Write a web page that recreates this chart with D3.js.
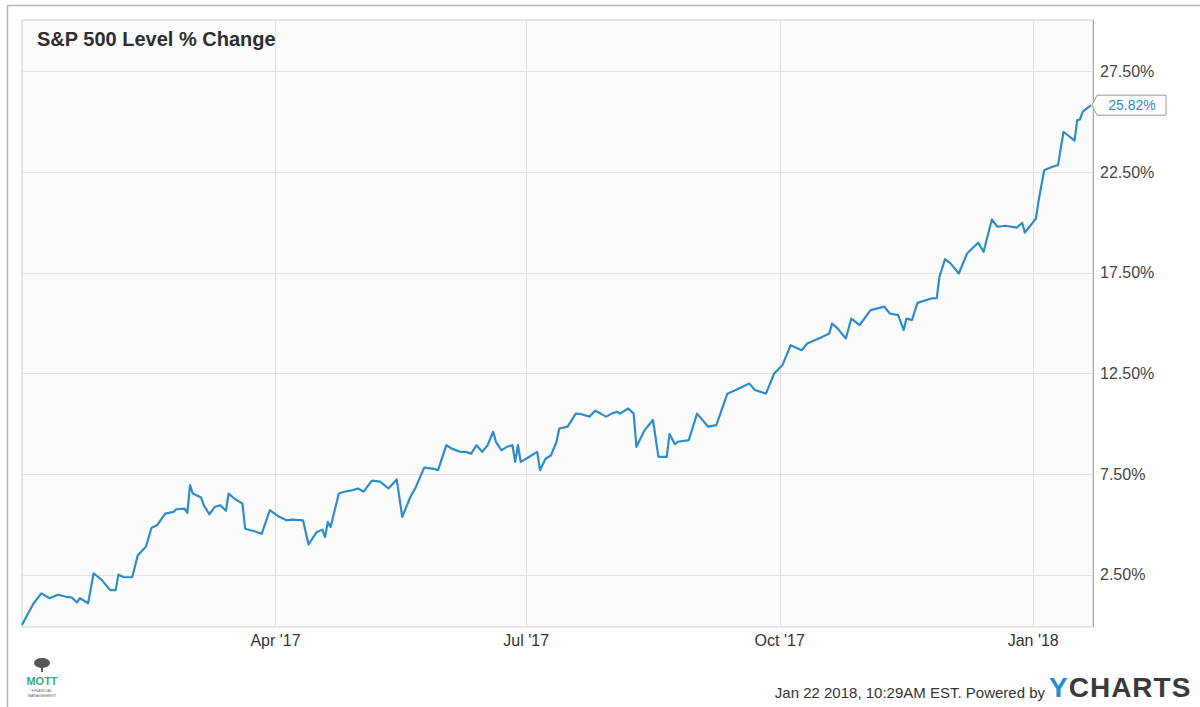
<!DOCTYPE html>
<html>
<head>
<meta charset="utf-8">
<script src="https://cdn.jsdelivr.net/npm/d3@7"></script>
<style>
  body { margin: 0; background: #fff; }
  svg { display: block; font-family: "Liberation Sans", Arial, sans-serif; }
</style>
</head>
<body>
<div id="container"></div>
<script>
/* DATA */
const dates = [
  "2016-12-30","2017-01-03","2017-01-06","2017-01-09","2017-01-12","2017-01-15","2017-01-17","2017-01-19","2017-01-20","2017-01-23",
  "2017-01-25","2017-01-28","2017-01-31","2017-02-02","2017-02-03","2017-02-05","2017-02-08","2017-02-10","2017-02-13","2017-02-15",
  "2017-02-17","2017-02-20","2017-02-23","2017-02-24","2017-02-27","2017-02-28","2017-03-01","2017-03-02","2017-03-05","2017-03-06",
  "2017-03-08","2017-03-10","2017-03-12","2017-03-14","2017-03-15","2017-03-17","2017-03-20","2017-03-21","2017-03-24","2017-03-27",
  "2017-03-29","2017-03-30","2017-04-02","2017-04-05","2017-04-07","2017-04-11","2017-04-13","2017-04-16","2017-04-18","2017-04-19",
  "2017-04-20","2017-04-21","2017-04-24","2017-04-26","2017-04-29","2017-05-01","2017-05-03","2017-05-06","2017-05-09","2017-05-12",
  "2017-05-15","2017-05-17","2017-05-20","2017-05-22","2017-05-25","2017-05-28","2017-05-30","2017-06-02","2017-06-04","2017-06-07",
  "2017-06-09","2017-06-11","2017-06-13","2017-06-15","2017-06-17","2017-06-19","2017-06-20","2017-06-22","2017-06-24","2017-06-26",
  "2017-06-27","2017-06-28","2017-06-29","2017-07-01","2017-07-03","2017-07-05","2017-07-06","2017-07-08","2017-07-10","2017-07-12",
  "2017-07-13","2017-07-16","2017-07-19","2017-07-21","2017-07-24","2017-07-26","2017-07-28","2017-07-30","2017-08-01","2017-08-03",
  "2017-08-04","2017-08-07","2017-08-09","2017-08-10","2017-08-13","2017-08-16","2017-08-18","2017-08-21","2017-08-22","2017-08-24",
  "2017-08-25","2017-08-29","2017-09-01","2017-09-05","2017-09-08","2017-09-12","2017-09-15","2017-09-20","2017-09-22","2017-09-26",
  "2017-09-29","2017-10-02","2017-10-05","2017-10-09","2017-10-11","2017-10-16","2017-10-19","2017-10-20","2017-10-22","2017-10-25",
  "2017-10-27","2017-10-30","2017-11-03","2017-11-08","2017-11-10","2017-11-13","2017-11-15","2017-11-16","2017-11-18","2017-11-20",
  "2017-11-25","2017-11-27","2017-11-28","2017-11-30","2017-12-02","2017-12-05","2017-12-08","2017-12-12","2017-12-14","2017-12-17",
  "2017-12-19","2017-12-22","2017-12-26","2017-12-28","2017-12-29","2018-01-02","2018-01-03","2018-01-05","2018-01-08","2018-01-10",
  "2018-01-12","2018-01-16","2018-01-17","2018-01-18","2018-01-19","2018-01-22"
];
const pctChange = [
  0, 1.03, 1.57, 1.33, 1.5, 1.4, 1.37, 1.12, 1.33, 1.08,
  2.57, 2.23, 1.73, 1.73, 2.5, 2.37, 2.37, 3.45, 3.9, 4.83,
  4.95, 5.53, 5.62, 5.75, 5.78, 5.57, 6.95, 6.53, 6.33, 5.95,
  5.5, 5.87, 5.95, 5.67, 6.53, 6.28, 6.03, 4.78, 4.67, 4.53,
  5.33, 5.7, 5.4, 5.2, 5.23, 5.2, 4.0, 4.62, 4.73, 4.37,
  5.12, 4.87, 6.53, 6.62, 6.7, 6.78, 6.62, 7.17, 7.12, 6.78,
  7.23, 5.37, 6.37, 6.87, 7.82, 7.77, 7.69, 8.93, 8.76, 8.6,
  8.6, 8.51, 8.93, 8.6, 8.93, 9.6, 9.1, 8.68, 8.85, 8.93,
  8.1, 8.93, 8.1, 8.26, 8.43, 8.6, 7.69, 8.26, 8.43, 9.1,
  9.76, 9.85, 10.5, 10.47, 10.35, 10.64, 10.5, 10.35, 10.5, 10.59,
  10.5, 10.75, 10.5, 8.85, 9.68, 10.18, 8.35, 8.35, 9.48, 8.98,
  9.1, 9.18, 10.5, 9.85, 9.93, 11.49, 11.67, 11.99, 11.67, 11.49,
  12.49, 12.91, 13.9, 13.65, 13.98, 14.28, 14.48, 14.97, 14.73, 14.23,
  15.22, 14.9, 15.64, 15.81, 15.47, 15.39, 14.65, 15.22, 15.14, 16.0,
  16.22, 16.24, 17.3, 18.17, 17.96, 17.46, 18.45, 18.99, 18.54, 20.14,
  19.78, 19.83, 19.74, 19.98, 19.49, 20.19, 21.1, 22.59, 22.76, 22.84,
  24.5, 24.06, 25.08, 25.11, 25.5, 25.82
];
const yTicks = [2.5, 7.5, 12.5, 17.5, 22.5, 27.5];
const xTickDates = ["2017-04-01", "2017-07-01", "2017-10-01", "2018-01-01"];
const xTickLabels = ["Apr '17", "Jul '17", "Oct '17", "Jan '18"];
const title = "S&P 500 Level % Change";
const lastLabel = "25.82%";

/* CONSTANTS */
const width = 1200, height = 707;
const plot = { left: 22, right: 1093, top: 20, bottom: 627 };
const lineColor = "#2f8ccb";

const parse = d3.timeParse("%Y-%m-%d");
const data = dates.map((d, i) => ({ date: parse(d), value: pctChange[i] }));

/* SCALES */
const xScale = d3.scaleTime()
  .domain([new Date(2016, 11, 30), new Date(2018, 0, 22, 17)])
  .range([plot.left, plot.right]);

const yScale = d3.scaleLinear()
  .domain([-0.1, 30.05])
  .range([plot.bottom, plot.top]);

/* SVG */
const svg = d3.select("#container")
  .append("svg")
  .attr("width", width)
  .attr("height", height);

// outer frame: only top and left edges show
svg.append("path")
  .attr("d", `M7.5,${height} V5.5 H${width}`)
  .attr("fill", "none")
  .attr("stroke", "#b5b5b5")
  .attr("stroke-width", 1.5);

// plot background
svg.append("rect")
  .attr("x", plot.left).attr("y", plot.top)
  .attr("width", plot.right - plot.left).attr("height", plot.bottom - plot.top)
  .attr("fill", "#fbfbfb")
  .attr("stroke", "#cfcfcf");

// gridlines
svg.append("g")
  .selectAll("line")
  .data(yTicks)
  .join("line")
  .attr("x1", plot.left).attr("x2", plot.right)
  .attr("y1", d => Math.round(yScale(d)) + 0.5)
  .attr("y2", d => Math.round(yScale(d)) + 0.5)
  .attr("stroke", "#e2e2e2");

svg.append("g")
  .selectAll("line")
  .data(xTickDates)
  .join("line")
  .attr("x1", d => Math.round(xScale(parse(d))) + 0.5)
  .attr("x2", d => Math.round(xScale(parse(d))) + 0.5)
  .attr("y1", plot.top).attr("y2", plot.bottom)
  .attr("stroke", "#e2e2e2");

// right axis line
svg.append("line")
  .attr("x1", plot.right + 0.5).attr("x2", plot.right + 0.5)
  .attr("y1", plot.top).attr("y2", plot.bottom)
  .attr("stroke", "#a8a8a8");

// y labels
svg.append("g")
  .selectAll("text")
  .data(yTicks)
  .join("text")
  .attr("x", 1100)
  .attr("y", d => yScale(d))
  .attr("dy", "0.35em")
  .attr("font-size", 16)
  .attr("fill", "#444")
  .text(d => d3.format(".2f")(d) + "%");

// x labels
svg.append("g")
  .selectAll("text")
  .data(xTickDates)
  .join("text")
  .attr("x", d => xScale(parse(d)))
  .attr("y", 646)
  .attr("text-anchor", "middle")
  .attr("font-size", 16)
  .attr("fill", "#333")
  .text((d, i) => xTickLabels[i]);

// title
svg.append("text")
  .attr("x", 37).attr("y", 46)
  .attr("font-size", 20)
  .attr("font-weight", "bold")
  .attr("fill", "#2e2e2e")
  .text(title);

// line
const line = d3.line()
  .x(d => xScale(d.date))
  .y(d => yScale(d.value));

svg.append("path")
  .datum(data)
  .attr("fill", "none")
  .attr("stroke", lineColor)
  .attr("stroke-width", 2.2)
  .attr("stroke-linejoin", "round")
  .attr("d", line);

// last value callout
const last = data[data.length - 1];
const ly = yScale(last.value);
const lx = xScale(last.date);
svg.append("path")
  .attr("d", `M${lx + 1},${ly} L${lx + 6},${ly - 10} H1166 V${ly + 10} H${lx + 6} Z`)
  .attr("fill", "#fff")
  .attr("stroke", "#9a9a9a");
svg.append("text")
  .attr("x", 1132).attr("y", ly)
  .attr("dy", "0.36em")
  .attr("text-anchor", "middle")
  .attr("font-size", 14)
  .attr("fill", "#2b8ad0")
  .text(lastLabel);

// footer
svg.append("text")
  .attr("x", 1045).attr("y", 698)
  .attr("text-anchor", "end")
  .attr("font-size", 15)
  .attr("fill", "#333")
  .text("Jan 22 2018, 10:29AM EST.  Powered by");

const brand = svg.append("text")
  .attr("x", 1049).attr("y", 697)
  .attr("font-size", 28)
  .attr("font-weight", "bold")
  .attr("letter-spacing", 1)
  .attr("fill", "#3a3a3a");
brand.append("tspan").attr("fill", "#1d8fd6").text("Y");
brand.append("tspan").text("CHARTS");

// small logo bottom-left
const logo = svg.append("g");
logo.append("ellipse")
  .attr("cx", 42).attr("cy", 663).attr("rx", 8).attr("ry", 5)
  .attr("fill", "#555");
logo.append("rect")
  .attr("x", 41).attr("y", 667).attr("width", 2).attr("height", 5)
  .attr("fill", "#555");
logo.append("text")
  .attr("x", 42).attr("y", 685)
  .attr("text-anchor", "middle")
  .attr("font-size", 11)
  .attr("font-weight", "bold")
  .attr("fill", "#3aaa7c")
  .text("MOTT");
logo.append("text")
  .attr("x", 42).attr("y", 692)
  .attr("text-anchor", "middle")
  .attr("font-size", 4)
  .attr("fill", "#666")
  .text("FINANCIAL");
logo.append("text")
  .attr("x", 42).attr("y", 697)
  .attr("text-anchor", "middle")
  .attr("font-size", 4)
  .attr("fill", "#666")
  .text("MANAGEMENT");
</script>
</body>
</html>
